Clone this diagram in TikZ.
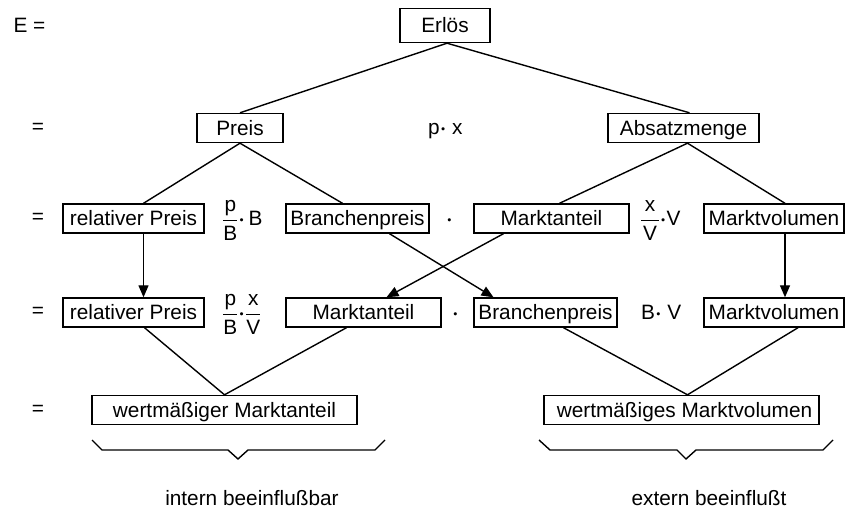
\documentclass[tikz,border=0pt]{standalone}
\usepackage{amsmath}
\usepackage{fontspec}
\setmainfont{Liberation Sans}
\usetikzlibrary{arrows.meta}
\newcommand{\bruch}[2]{$\genfrac{}{}{0.9pt}{0}{\hbox{#1}}{\hbox{#2}}$}

\begin{document}
\begin{tikzpicture}[x=1pt,y=-1pt,font=\fontsize{20.8}{24}\selectfont,
	kasten/.style={draw,line width=1.4pt,minimum height=29pt,inner xsep=0pt,text height=17pt,text depth=2pt},
	linie/.style={line width=1.4pt},
	pfeil/.style={line width=1.4pt,-{Triangle[length=12pt,width=10pt]}},
	formel/.style={anchor=base west,inner sep=0pt}]
\useasboundingbox (0,0) rectangle (847,513);

	\node[anchor=west] (e1) at (10,25) {E =};
	\node (e2) at (38,128) {=};
	\node (e3) at (38,218) {=};
	\node (e4) at (38,312) {=};
	\node (e5) at (38,410) {=};

	\node[kasten,minimum width=90pt,minimum height=34pt] (erloes) at (445,25.5) {Erlös};
	\node[kasten,minimum width=86pt] (preis) at (240,128) {Preis};
	\node[formel] (px) at (428,135) {p$\boldsymbol{\cdot}$ x};
	\node[kasten,minimum width=151pt] (absatz) at (683.5,128) {Absatzmenge};

	\node[kasten,minimum width=141pt] (relpreis) at (133.5,218.5) {relativer Preis};
	\node[formel] (pbb) at (222,226) {\bruch{p}{B}$\boldsymbol{\cdot}$\,B};
	\node[kasten,minimum width=143pt] (branche) at (357.5,218.5) {Branchenpreis};
	\node[formel] (mal1) at (446,226) {$\boldsymbol{\cdot}$};
	\node[kasten,minimum width=155pt] (anteil) at (551.5,218.5) {Marktanteil};
	\node[formel] (xvv) at (640,226) {\bruch{\,x\,}{V}$\boldsymbol{\cdot}$V};
	\node[kasten,minimum width=140pt] (volumen) at (774,218.5) {Marktvolumen};

	\node[kasten,minimum width=141pt] (relpreisb) at (133.5,312.5) {relativer Preis};
	\node[formel] (pbxv) at (222,320) {\bruch{p}{B}$\boldsymbol{\cdot}$\bruch{x}{V}};
	\node[kasten,minimum width=155pt] (anteilb) at (363.5,312.5) {Marktanteil};
	\node[formel] (mal2) at (452,320) {$\boldsymbol{\cdot}$};
	\node[kasten,minimum width=143pt] (brancheb) at (545.5,312.5) {Branchenpreis};
	\node[formel] (bv) at (641,320) {B$\boldsymbol{\cdot}$ V};
	\node[kasten,minimum width=140pt] (volumenb) at (774,312.5) {Marktvolumen};

	\node[kasten,minimum width=265pt] (wma) at (224.5,410) {wertmäßiger Marktanteil};
	\node[kasten,minimum width=275pt] (wmv) at (681.5,410) {\hspace{6pt}wertmäßiges Marktvolumen};

	\node (intern) at (252,498) {intern beeinflußbar};
	\node (extern) at (709,498) {extern beeinflußt};

	\draw[linie] ([xshift=2pt]erloes.south) -- (preis.north);
	\draw[linie] ([xshift=2pt]erloes.south) -- ([xshift=6pt]absatz.north);
	\draw[linie] (preis.south) -- ([xshift=10pt]relpreis.north);
	\draw[linie] (preis.south) -- ([xshift=-15pt]branche.north);
	\draw[linie] ([xshift=4pt]absatz.south) -- ([xshift=8pt]anteil.north);
	\draw[linie] ([xshift=4pt]absatz.south) -- ([xshift=11pt]volumen.north);

	\draw[pfeil] ([xshift=10pt]relpreis.south) -- ([xshift=10pt]relpreisb.north);
	\draw[pfeil] ([xshift=32pt]branche.south) -- ([xshift=-52pt]brancheb.north);
	\draw[pfeil] ([xshift=-48pt]anteil.south) -- ([xshift=23pt]anteilb.north);
	\draw[pfeil] ([xshift=11pt]volumen.south) -- ([xshift=11pt]volumenb.north);

	\draw[linie] ([xshift=11pt]relpreisb.south) -- (wma.north);
	\draw[linie] ([xshift=-17pt]anteilb.south) -- (wma.north);
	\draw[linie] ([xshift=18pt]brancheb.south) -- ([xshift=6pt]wmv.north);
	\draw[linie] ([xshift=24pt]volumenb.south) -- ([xshift=6pt]wmv.north);

	\draw[linie] (92,440) -- (102,450) -- (228,450) -- (238,459) -- (248,450) -- (375,450) -- (385,440);
	\draw[linie] (539,440) -- (550,450) -- (677,450) -- (686,459) -- (696,450) -- (823,450) -- (833,440);
\end{tikzpicture}
\end{document}
